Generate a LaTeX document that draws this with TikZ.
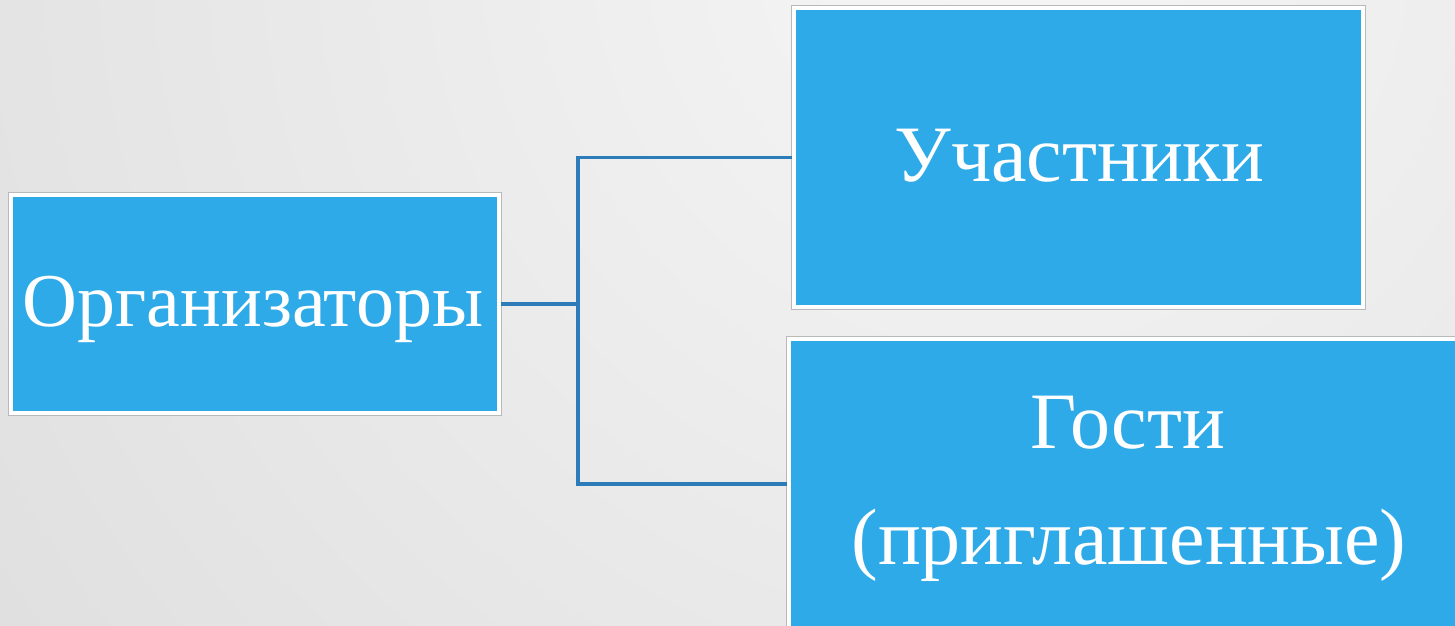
\documentclass[tikz,border=0pt]{standalone}
\usepackage{fontspec}
\setmainfont{Liberation Serif}
\usetikzlibrary{calc}
\definecolor{boxblue}{RGB}{47,170,232}
\definecolor{linkblue}{RGB}{44,124,186}
\definecolor{bgin}{RGB}{246,246,246}
\definecolor{bgout}{RGB}{204,204,204}
\begin{document}
\begin{tikzpicture}[x=1pt,y=-1pt,
  box/.style={fill=boxblue, draw=white, line width=4pt,
    preaction={draw=gray!55, line width=5.5pt}, inner sep=0pt},
  link/.style={draw=linkblue, line width=3.5pt, line cap=butt, line join=miter},
  txt/.style={text=white, inner sep=0pt, anchor=base, font=\fontsize{80}{96}\selectfont}]
\path[use as bounding box] (0,0) rectangle (1455,625);
\begin{scope}
  \clip (0,0) rectangle (1455,625);
  \shade[inner color=bgin, outer color=bgout] (1000,-60) circle (2300);
\end{scope}
% boxes
\node[box, minimum width=488pt, minimum height=218pt] (L) at (255,304) {};
\node[box, minimum width=569pt, minimum height=299pt] (T) at (1078.5,157.5) {};
\node[box, minimum width=683pt, minimum height=301pt] (B) at (1130.5,489.5) {};
% connectors
\coordinate (j)  at (578,304);
\coordinate (jt) at (578,157.5);
\coordinate (jb) at (578,484);
\draw[link] (L.east) -- (j);
\draw[link] (T.west) -- (jt) -- (jb) -- (jb -| B.west);
% texts
\node[txt, font=\fontsize{76}{90}\selectfont] (tL) at (253,326) {Организаторы};
\node[txt] (tT) at (1079.5,181) {Участники};
\node[txt] (tB1) at (1128,448) {Гости};
\node[txt] (tB2) at (1129,564) {(приглашенные)};
\end{tikzpicture}
\end{document}
